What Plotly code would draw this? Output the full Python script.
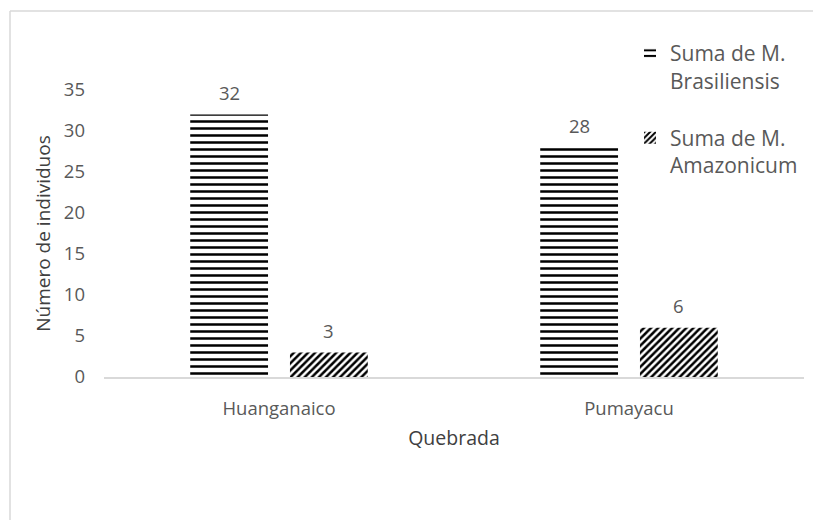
import plotly.graph_objects as go

# Individuals counted per stream (quebrada) and species
quebradas = ["Huanganaico", "Pumayacu"]
brasiliensis = [32, 28]
amazonicum = [3, 6]
series_names = ["Suma de M.<br>Brasiliensis", "Suma de M.<br>Amazonicum"]
y_ticks = [0, 5, 10, 15, 20, 25, 30, 35]

FONT = "Open Sans"
GREY = "#595959"
DARK = "#404040"

L, R, T, B = 104, 9, 90, 143
W, H = 813, 520
pw, ph = W - L - R, H - T - B
BARGAP, GROUPGAP = 0.43, 0.22

patterns = [
    dict(shape="-", fgcolor="black", bgcolor="white", size=7, solidity=0.36,
         fgopacity=1, fillmode="replace"),
    dict(shape="/", fgcolor="black", bgcolor="white", size=5, solidity=0.5,
         fgopacity=1, fillmode="replace"),
]

fig = go.Figure()
for i, (vals, name) in enumerate(zip([brasiliensis, amazonicum], series_names)):
    fig.add_trace(go.Bar(
        x=quebradas, y=vals, name=name, legendgroup=f"g{i}",
        marker=dict(color="white", line=dict(width=0), pattern=patterns[i]),
    ))

# Value labels above each bar, shifted to the centre of its slot in the group
slot_px = pw / len(quebradas) * (1 - BARGAP) / 2
for i, vals in enumerate([brasiliensis, amazonicum]):
    for q, v in zip(quebradas, vals):
        fig.add_annotation(
            x=q, y=v, xref="x", yref="y", text=str(v), showarrow=False,
            xshift=(i - 0.5) * slot_px, yshift=22, yanchor="middle",
            font=dict(family=FONT, size=18.5, color=GREY),
        )

def px(x):
    return (x - L) / pw

def py(y):
    return (H - B - y) / ph

# Outer frame of the chart area
frame = dict(type="line", xref="paper", yref="paper",
             line=dict(color="#d9d9d9", width=1.5))
fig.add_shape(**frame, x0=px(10), x1=px(W + 5), y0=py(11), y1=py(11))
fig.add_shape(**frame, x0=px(10), x1=px(10), y0=py(11), y1=py(H + 5))

fig.update_layout(
    width=W, height=H,
    margin=dict(l=L, r=R, t=T, b=B),
    paper_bgcolor="white", plot_bgcolor="white",
    barmode="group", bargap=BARGAP, bargroupgap=GROUPGAP,
    font=dict(family=FONT, color=GREY, size=18.5),
    showlegend=True,
    legend=dict(x=px(630), y=py(33), xanchor="left", yanchor="top",
                traceorder="grouped", tracegroupgap=27, valign="top",
                font=dict(family=FONT, size=21, color=GREY),
                itemwidth=30, bgcolor="rgba(0,0,0,0)"),
    xaxis=dict(
        showline=True, linecolor="#d9d9d9", linewidth=1.5,
        ticks="", ticklabelstandoff=14,
        tickfont=dict(family=FONT, size=18.5, color=GREY),
        title=dict(text="Quebrada", font=dict(family=FONT, size=19.5, color=DARK),
                   standoff=12),
    ),
    yaxis=dict(
        range=[0, 35], tickvals=y_ticks, showgrid=False, zeroline=False,
        showline=False, ticks="", ticklabelstandoff=18,
        tickfont=dict(family=FONT, size=18.5, color=GREY),
        title=dict(text="Número de individuos",
                   font=dict(family=FONT, size=19, color=DARK),
                   standoff=8),
    ),
)

fig.write_html("out.html")
